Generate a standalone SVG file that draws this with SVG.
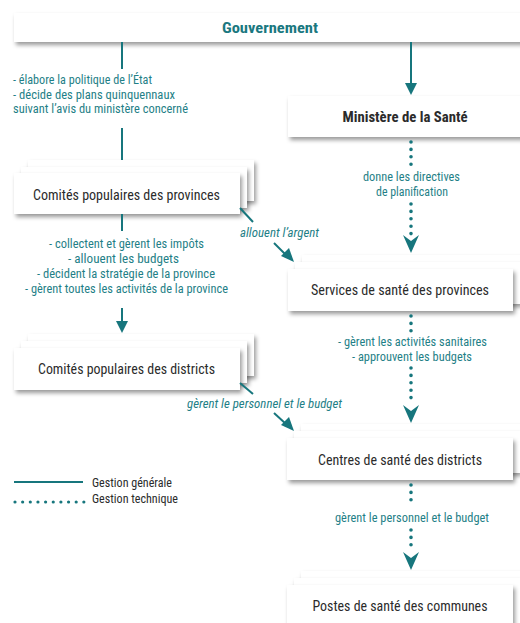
<svg xmlns="http://www.w3.org/2000/svg" width="520" height="623" viewBox="0 0 520 623">
<defs>
<filter id="sh" x="-10%" y="-30%" width="130%" height="180%">
<feDropShadow dx="2" dy="3" stdDeviation="2" flood-color="#000" flood-opacity="0.4"/>
</filter>
<style>
.box{fill:#fff;filter:url(#sh)}
.lbl{font-family:"Liberation Sans Narrow","Roboto Condensed","Liberation Sans",Arial,sans-serif;font-size:15.5px;fill:#2b2b2b;text-anchor:middle}
.note{font-family:"Liberation Sans Narrow","Roboto Condensed","Liberation Sans",Arial,sans-serif;font-size:13.5px;fill:#1f7f87}
.sm{font-size:13px}
.mid{text-anchor:middle}
.it{font-style:italic}
.leg{font-family:"Liberation Sans Narrow","Roboto Condensed","Liberation Sans",Arial,sans-serif;font-size:13px;fill:#2b2b2b}
.solid{stroke:#17767d;stroke-width:2;fill:none}
.dot{stroke:#17767d;stroke-width:3.6;stroke-linecap:round;stroke-dasharray:0 7.4;fill:none}
.ah{fill:#17767d}
</style>
</defs>
<rect width="520" height="623" fill="#fff"/>

<g id="gouvernement">
<rect class="box" x="14" y="13" width="530" height="29"/>
<text x="270" y="32.5" class="lbl" style="font-weight:bold;fill:#1a7880" textLength="96" lengthAdjust="spacingAndGlyphs">Gouvernement</text>
</g>

<g id="ministere">
<rect class="box" x="288" y="96" width="240" height="41"/>
<text x="405" y="122" class="lbl" style="font-weight:bold" textLength="125" lengthAdjust="spacingAndGlyphs">Ministère de la Santé</text>
</g>

<g id="comites-provinces">
<rect class="box" x="28" y="160" width="226" height="41"/>
<rect class="box" x="21" y="167" width="226" height="41"/>
<rect class="box" x="14" y="173" width="226" height="41"/>
<text x="126.5" y="200" class="lbl" textLength="187" lengthAdjust="spacingAndGlyphs">Comités populaires des provinces</text>
</g>

<g id="services-provinces">
<rect class="box" x="302" y="255" width="226" height="42"/>
<rect class="box" x="295" y="262" width="226" height="42"/>
<rect class="box" x="288" y="269" width="225" height="42"/>
<text x="400" y="295" class="lbl" textLength="178" lengthAdjust="spacingAndGlyphs">Services de santé des provinces</text>
</g>

<g id="comites-districts">
<rect class="box" x="28" y="334" width="226" height="42"/>
<rect class="box" x="21" y="341" width="226" height="42"/>
<rect class="box" x="14" y="348" width="226" height="42"/>
<text x="126.5" y="374" class="lbl" textLength="177" lengthAdjust="spacingAndGlyphs">Comités populaires des districts</text>
</g>

<g id="centres-districts">
<rect class="box" x="301" y="424" width="226" height="42"/>
<rect class="box" x="294" y="431" width="226" height="42"/>
<rect class="box" x="287" y="438" width="226" height="42"/>
<text x="400" y="465" class="lbl" textLength="164" lengthAdjust="spacingAndGlyphs">Centres de santé des districts</text>
</g>

<g id="postes-communes">
<rect class="box" x="301" y="571" width="226" height="70"/>
<rect class="box" x="294" y="578" width="226" height="70"/>
<rect class="box" x="287" y="585" width="226" height="70"/>
<text x="400" y="611" class="lbl" textLength="175" lengthAdjust="spacingAndGlyphs">Postes de santé des communes</text>
</g>

<g id="connectors">
<line class="solid" x1="122" y1="42" x2="122" y2="69"/>
<line class="solid" x1="122" y1="128" x2="122" y2="160"/>
<text class="note sm" x="13" y="84" textLength="139" lengthAdjust="spacingAndGlyphs">- élabore la politique de l’État</text>
<text class="note sm" x="13" y="98.5" textLength="162" lengthAdjust="spacingAndGlyphs">- décide des plans quinquennaux</text>
<text class="note sm" x="13" y="113" textLength="175" lengthAdjust="spacingAndGlyphs">suivant l’avis du ministère concerné</text>

<line class="solid" x1="411" y1="42" x2="411" y2="85"/>
<path class="ah" d="M405,83 L417,83 L411,95 Z"/>

<line class="solid" x1="122" y1="214" x2="122" y2="231"/>
<line class="solid" x1="122" y1="308" x2="122" y2="323"/>
<path class="ah" d="M116,321 L128,321 L122,333 Z"/>
<text class="note mid" x="126.5" y="248" textLength="155" lengthAdjust="spacingAndGlyphs">- collectent et gèrent les impôts</text>
<text class="note mid" x="123.5" y="263" textLength="111" lengthAdjust="spacingAndGlyphs">- allouent les budgets</text>
<text class="note mid" x="126" y="278" textLength="178" lengthAdjust="spacingAndGlyphs">- décident la stratégie de la province</text>
<text class="note mid" x="126.5" y="293" textLength="203" lengthAdjust="spacingAndGlyphs">- gèrent toutes les activités de la province</text>

<line class="solid" x1="240" y1="208" x2="253" y2="222"/>
<text class="note it" x="240" y="237" textLength="79" lengthAdjust="spacingAndGlyphs">allouent l’argent</text>
<line class="solid" x1="274" y1="243" x2="286" y2="255"/>
<path class="ah" d="M281,256 L289,248 L294,262 Z"/>

<line class="solid" x1="240" y1="383" x2="253" y2="394"/>
<text class="note it" x="187" y="408" textLength="155" lengthAdjust="spacingAndGlyphs">gèrent le personnel et le budget</text>
<line class="solid" x1="274" y1="413" x2="286" y2="424"/>
<path class="ah" d="M281,425 L289,417 L294,431 Z"/>

<line class="dot" x1="411" y1="142" x2="411" y2="165"/>
<text class="note mid" x="411.5" y="181" textLength="97" lengthAdjust="spacingAndGlyphs">donne les directives</text>
<text class="note mid" x="412" y="196" textLength="72" lengthAdjust="spacingAndGlyphs">de planification</text>
<line class="dot" x1="411" y1="204" x2="411" y2="234"/>
<path class="ah" d="M403,235 L411,241 L419,235 L411,253 Z"/>

<line class="dot" x1="411" y1="316" x2="411" y2="331"/>
<text class="note mid" x="412.5" y="346" textLength="149" lengthAdjust="spacingAndGlyphs">- gèrent les activités sanitaires</text>
<text class="note mid" x="412" y="361" textLength="120" lengthAdjust="spacingAndGlyphs">- approuvent les budgets</text>
<line class="dot" x1="411" y1="368" x2="411" y2="404"/>
<path class="ah" d="M403,405 L411,411 L419,405 L411,423 Z"/>

<line class="dot" x1="411" y1="485" x2="411" y2="507"/>
<text class="note mid" x="412" y="522" textLength="154" lengthAdjust="spacingAndGlyphs">gèrent le personnel et le budget</text>
<line class="dot" x1="411" y1="530" x2="411" y2="551"/>
<path class="ah" d="M403,552 L411,558 L419,552 L411,570 Z"/>
</g>

<g id="legend">
<line class="solid" x1="14" y1="482" x2="83" y2="482"/>
<text class="leg" x="92" y="487" textLength="80" lengthAdjust="spacingAndGlyphs">Gestion générale</text>
<line class="dot" x1="15" y1="502" x2="84" y2="502" style="stroke-dasharray:0 7.65;stroke-width:3.2"/>
<text class="leg" x="92" y="503" textLength="86" lengthAdjust="spacingAndGlyphs">Gestion technique</text>
</g>
</svg>
